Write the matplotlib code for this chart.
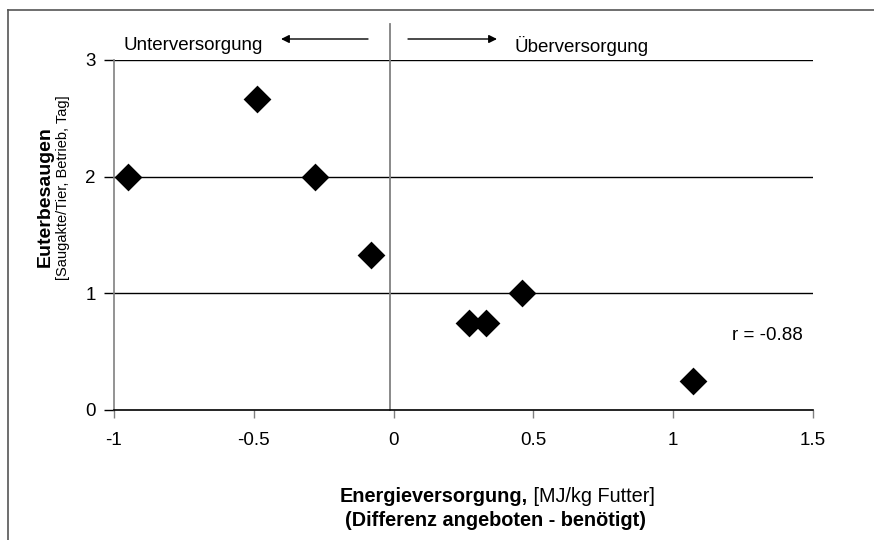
import matplotlib
matplotlib.use("Agg")
import matplotlib.pyplot as plt
from matplotlib.lines import Line2D

plt.rcParams['font.family'] = ['Liberation Sans', 'DejaVu Sans']

# Data
energie = [-0.95, -0.49, -0.28, -0.08, 0.27, 0.33, 0.46, 1.07]
besaugen = [2.0, 2.67, 2.0, 1.33, 0.75, 0.75, 1.0, 0.25]
xticks = [-1, -0.5, 0, 0.5, 1, 1.5]
xticklabels = ['-1', '-0.5', '0', '0.5', '1', '1.5']
yticks = [0, 1, 2, 3]
r_text = 'r = -0.88'

W, H = 874, 540
fig = plt.figure(figsize=(W / 100, H / 100), dpi=100)

# outer frame (top and left visible)
fig.add_artist(Line2D([8 / W, 8 / W], [0, 1 - 10 / H], transform=fig.transFigure,
                      color='#555555', lw=1.2))
fig.add_artist(Line2D([8 / W, 1], [1 - 10 / H, 1 - 10 / H], transform=fig.transFigure,
                      color='#555555', lw=1.2))

ax = fig.add_axes([114 / W, 1 - 410 / H, (813 - 114) / W, (410 - 60) / H])
ax.set_xlim(-1, 1.5)
ax.set_ylim(0, 3)

for yv in [1, 2, 3]:
    ax.axhline(yv, color='black', lw=1.0, zorder=1)

ax.scatter(energie, besaugen, marker='D', s=200, color='black', zorder=3, linewidths=0)

for s in ['top', 'right']:
    ax.spines[s].set_visible(False)
ax.spines['left'].set_color('#808080')
ax.spines['left'].set_linewidth(1.2)
ax.spines['bottom'].set_color('black')
ax.spines['bottom'].set_linewidth(1.2)

ax.set_xticks(xticks)
ax.set_xticklabels(xticklabels)
ax.set_yticks(yticks)
ax.tick_params(axis='x', direction='out', length=6, width=1, color='#808080',
               labelsize=13.5, pad=10)
ax.tick_params(axis='y', direction='out', length=7, width=1, color='black',
               labelsize=13.5, pad=6)

# vertical divider line (extends above plot)
vx = (390 - 114) / (813 - 114) * 2.5 - 1
ax.plot([vx, vx], [0, 3 + 36 / (350 / 3)], color='#808080', lw=1.3, clip_on=False, zorder=2)

# region labels and arrows
fig.text(124 / W, 1 - 46 / H, 'Unterversorgung', fontsize=13.5, ha='left', va='center')
fig.text(515 / W, 1 - 46 / H, 'Überversorgung', fontsize=13.5, ha='left', va='center')
ax.annotate('', xy=(281 / W, 1 - 39 / H), xytext=(368 / W, 1 - 39 / H),
            xycoords='figure fraction', textcoords='figure fraction',
            arrowprops=dict(arrowstyle='-|>', color='black', lw=1.0,
                            mutation_scale=12, shrinkA=0, shrinkB=0))
ax.annotate('', xy=(497 / W, 1 - 39 / H), xytext=(408 / W, 1 - 39 / H),
            xycoords='figure fraction', textcoords='figure fraction',
            arrowprops=dict(arrowstyle='-|>', color='black', lw=1.0,
                            mutation_scale=12, shrinkA=0, shrinkB=0))

# r annotation
fig.text(732 / W, 1 - 335 / H, r_text, fontsize=13.5, ha='left', va='center')

# y label
fig.text(45 / W, 1 - 197 / H, 'Euterbesaugen', fontsize=14, fontweight='bold',
         rotation=90, ha='center', va='center')
fig.text(63 / W, 1 - 188 / H, '[Saugakte/Tier, Betrieb, Tag]', fontsize=10.5,
         rotation=90, ha='center', va='center')

# x label
t1 = fig.text(340 / W, 1 - 497 / H, 'Energieversorgung,', fontsize=14.3,
              fontweight='bold', ha='left', va='center')
fig.canvas.draw()
bb = t1.get_window_extent()
fig.text(bb.x1 / W, 1 - 497 / H, ' [MJ/kg Futter]', fontsize=14.3,
         ha='left', va='center')
fig.text(496 / W, 1 - 521 / H, '(Differenz angeboten - benötigt)', fontsize=14.3,
         fontweight='bold', ha='center', va='center')

fig.savefig('out.png', dpi=100)
